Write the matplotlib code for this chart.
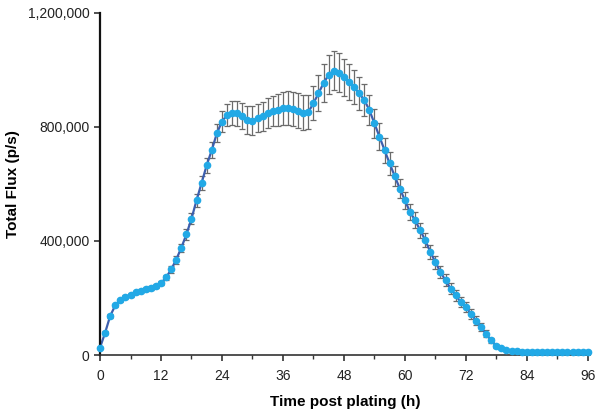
import numpy as np
import matplotlib
matplotlib.use("Agg")
import matplotlib.pyplot as plt
from matplotlib.ticker import FuncFormatter, MultipleLocator

plt.rcParams['font.family'] = ['Liberation Sans', 'DejaVu Sans']

# hourly readings, 0..96 h
hours = list(range(97))
flux = [26000, 78000, 137000, 174000, 192000, 204000, 211000, 220000, 226000,
        232000, 235000, 243000, 252000, 272000, 300000, 335000, 376000, 423000,
        478000, 543000, 604000, 666000, 719000, 778000, 819000, 842000, 850000,
        848000, 839000, 825000, 822000, 831000, 838000, 848000, 856000, 861000,
        865000, 866000, 863000, 857000, 850000, 852000, 883000, 918000, 954000,
        983000, 998000, 991000, 975000, 959000, 940000, 918000, 895000, 860000,
        813000, 766000, 719000, 672000, 628000, 584000, 543000, 502000, 473000,
        438000, 403000, 362000, 326000, 291000, 262000, 233000, 209000, 186000,
        168000, 145000, 121000, 97000, 74000, 51000, 33000, 24000, 18000, 15000,
        14000] + [12000] * 14
flux_err = [3000, 5000, 6000, 6000, 6000, 6000, 6000, 6000, 6000, 6000, 6000,
            7000, 8000, 10000, 12000, 14000, 15000, 18000, 20000, 22000, 24000,
            26000, 28000, 32000, 36000, 40000, 42000, 43000, 46000, 48000, 50000,
            50000, 51000, 52000, 54000, 56000, 58000, 59000, 60000, 61000, 62000,
            60000, 60000, 63000, 66000, 68000, 68000, 67000, 65000, 63000, 61000,
            59000, 56000, 53000, 50000, 47000, 44000, 40000, 36000, 32000, 30000,
            28000, 27000, 26000, 25000, 24000, 23000, 22000, 21000, 20000, 20000,
            19000, 18000, 17000, 16000, 14000, 12000, 10000, 7000, 4000, 3000] + [2000] * 16

fig = plt.figure(figsize=(6, 4.18), dpi=100)
ax = fig.add_axes([0.1667, 0.1507, 0.8163, 0.8183])

ax.errorbar(hours, flux, yerr=flux_err, fmt='none', ecolor='#6b6b6b',
            elinewidth=0.9, capsize=2.5, capthick=0.9, zorder=1, clip_on=False)
ax.plot(hours, flux, color='#3d5fae', linewidth=1.6, zorder=2, clip_on=False)
ax.plot(hours, flux, linestyle='none', marker='o', markersize=4.5,
        markerfacecolor='#22a9e6', markeredgecolor='#22a9e6', zorder=3, clip_on=False)

ax.set_xlim(0, 96.4)
ax.set_ylim(0, 1200000)
ax.xaxis.set_major_locator(MultipleLocator(12))
ax.xaxis.set_minor_locator(MultipleLocator(6))
ax.yaxis.set_major_locator(MultipleLocator(400000))
ax.yaxis.set_major_formatter(FuncFormatter(lambda v, p: f"{int(v):,}"))

for side in ('top', 'right'):
    ax.spines[side].set_visible(False)
ax.spines['left'].set_linewidth(1.6)
ax.spines['left'].set_color('#111111')
ax.spines['bottom'].set_linewidth(1.2)
ax.spines['bottom'].set_color('#333333')

ax.tick_params(axis='both', which='major', direction='out', length=4, width=1.1,
               labelsize=10, colors='#222222')
ax.tick_params(axis='x', which='minor', direction='out', length=3, width=1.0,
               colors='#333333')
ax.tick_params(axis='x', pad=6)

ax.set_xlabel('Time post plating (h)', fontsize=11, fontweight='bold', labelpad=9)
ax.set_ylabel('Total Flux (p/s)', fontsize=11, fontweight='bold', labelpad=6)

fig.savefig('out.png', dpi=100)
